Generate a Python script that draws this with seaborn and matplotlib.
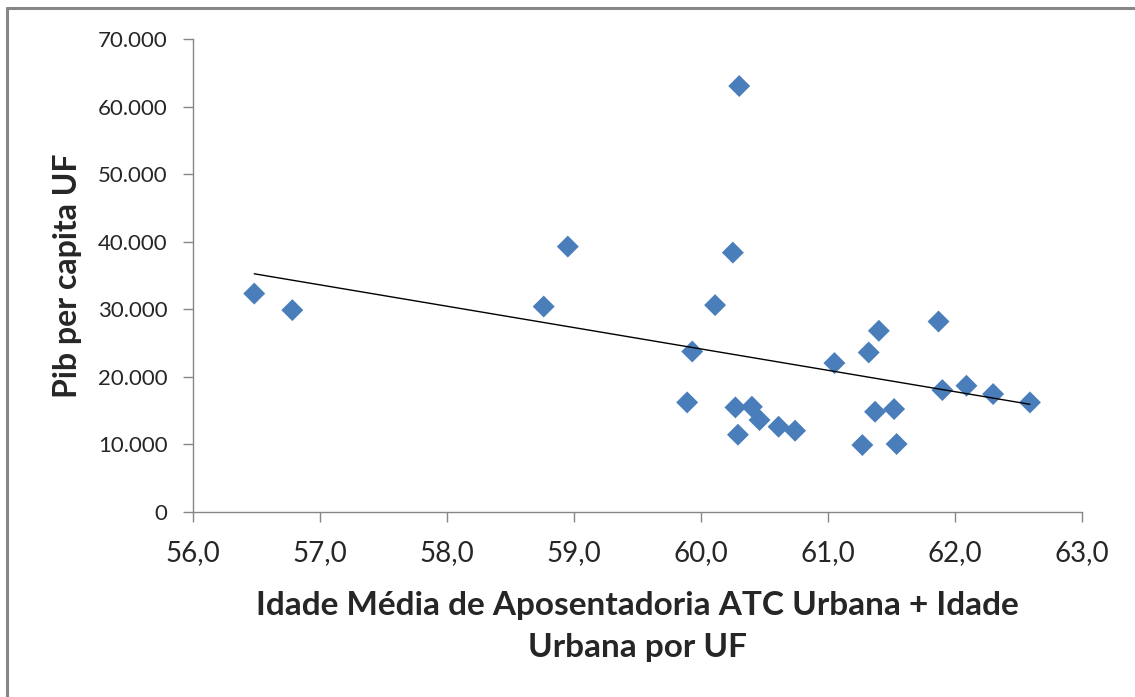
import numpy as np
import pandas as pd
import matplotlib
matplotlib.use("Agg")
import matplotlib.pyplot as plt
import seaborn as sns
from matplotlib.ticker import FuncFormatter
from matplotlib.lines import Line2D

# idade media de aposentadoria x pib per capita, 27 UFs
idade = [56.48, 56.78, 58.76, 58.95, 59.89, 59.93, 60.11, 60.25, 60.30,
         60.27, 60.29, 60.40, 60.46, 60.61, 60.74, 61.05, 61.27, 61.32,
         61.37, 61.40, 61.52, 61.54, 61.87, 61.90, 62.09, 62.30, 62.59]
pib = [32300, 29850, 30380, 39260, 16180, 23720, 30590, 38370, 63040,
       15440, 11400, 15540, 13570, 12580, 11990, 22010, 9870, 23580,
       14800, 26790, 15200, 10020, 28160, 18010, 18650, 17420, 16180]

x_ticks = [56, 57, 58, 59, 60, 61, 62, 63]
y_ticks = [0, 10000, 20000, 30000, 40000, 50000, 60000, 70000]

df = pd.DataFrame({'idade': idade, 'pib': pib})

sns.set_theme(style='white')
plt.rcParams['font.family'] = ['Lato', 'DejaVu Sans']

fig = plt.figure(figsize=(11.35, 6.97), dpi=100)
ax = fig.add_axes([0.1703, 0.2659, 0.7830, 0.6781])

sns.scatterplot(data=df, x='idade', y='pib', marker='D', s=125,
                color='#4a7ebb', edgecolor='none', ax=ax, zorder=3)

# linha de tendencia linear (como no excel)
coef = np.polyfit(df['idade'], df['pib'], 1)
xs = np.array([df['idade'].min(), df['idade'].max()])
ax.plot(xs, np.polyval(coef, xs), color='black', lw=1, zorder=4)

ax.set_xlim(56, 63)
ax.set_ylim(0, 70000)
ax.set_xticks(x_ticks)
ax.set_yticks(y_ticks)
ax.xaxis.set_major_formatter(FuncFormatter(lambda v, p: '{:.1f}'.format(v).replace('.', ',')))
ax.yaxis.set_major_formatter(FuncFormatter(lambda v, p: '0' if v == 0 else '{:,.0f}'.format(v).replace(',', '.')))

for side in ['top', 'right']:
    ax.spines[side].set_visible(False)
for side in ['left', 'bottom']:
    ax.spines[side].set_color('#868686')
    ax.spines[side].set_linewidth(1)
ax.tick_params(axis='both', direction='out', length=7.5, width=1, color='#868686',
               labelcolor='#262626', left=True, bottom=True)
ax.tick_params(axis='x', labelsize=20, pad=13)
ax.tick_params(axis='y', labelsize=16, pad=11)

ax.set_xlabel('Idade Média de Aposentadoria ATC Urbana + Idade\nUrbana por UF',
              fontsize=24, fontweight='bold', linespacing=1.55)
ax.xaxis.label.set_va('baseline')
ax.xaxis.set_label_coords(0.5, -0.3074)
ax.set_ylabel('Pib per capita UF', fontsize=23, fontweight='bold')
ax.yaxis.label.set_va('center')
ax.yaxis.set_label_coords(-0.141, 0.5)

# moldura da area do grafico
fig.add_artist(Line2D([0.0066, 0.0066], [0, 0.9885], transform=fig.transFigure,
                      color='#878787', lw=2.2))
fig.add_artist(Line2D([0.0066, 1.0], [0.9885, 0.9885], transform=fig.transFigure,
                      color='#878787', lw=2.2))

fig.savefig('out.png', dpi=100, facecolor='white')
